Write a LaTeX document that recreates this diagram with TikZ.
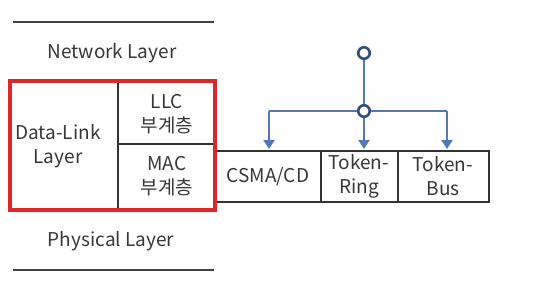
\documentclass[tikz,border=0pt]{standalone}
\usepackage{fontspec}
\setmainfont{Noto Sans CJK KR}
\usetikzlibrary{arrows.meta}
\definecolor{redbox}{RGB}{220,40,40}
\definecolor{bluearr}{RGB}{84,118,188}
\definecolor{txt}{RGB}{55,55,55}
\begin{document}
\begin{tikzpicture}[x=1pt,y=-1pt,
  lbl/.style={font=\fontsize{19}{24}\selectfont, text=txt, align=center, inner sep=0pt},
  rule/.style={line width=2pt, draw=black!75},
  cell/.style={line width=1.6pt, draw=black!80},
  bl/.style={line width=2.7pt, draw=bluearr},
  arr/.style={bl, -{Triangle[length=9pt,width=11pt]}},
  dot/.style={circle, draw=bluearr!65!black, line width=2.6pt, fill=white, minimum size=11.5pt, inner sep=0pt}]
\useasboundingbox (0,0) rectangle (549,289);
% horizontal rules
\draw[rule] (13,22) -- (214,22);
\draw[rule] (13,270) -- (214,270);
\node[lbl] (net) at (112,53) {Network Layer};
\node[lbl] (phy) at (111,241) {Physical Layer};
% inner dividers
\draw[cell] (118,81) -- (118,212);
\draw[cell] (118,144) -- (215,144);
% right table
\draw[cell] (215,151) rectangle (489,202);
\draw[cell] (321,151) -- (321,202);
\draw[cell] (398,151) -- (398,202);
% red box
\draw[draw=redbox, line width=3.4pt] (10,81) rectangle (215,210);
\node[lbl] (dl) at (58,146) {Data-Link\\Layer};
\node[lbl] (llc) at (167,114) {LLC\\부계층};
\node[lbl] (mac) at (167,176) {MAC\\부계층};
\node[lbl] (csma) at (268,177) {CSMA/CD};
\node[lbl] (ring) at (359,176) {Token-\\Ring};
\node[lbl] (bus) at (443,176) {Token-\\Bus};
% arrows
\coordinate (cl) at (269,111);
\coordinate (cr) at (447,111);
\coordinate (tl) at (269,149);
\coordinate (tm) at (364,149);
\coordinate (tr) at (447,149);
\node[dot] (top) at (364,53) {};
\node[dot] (mid) at (364,111) {};
\draw[bl] (top) -- (mid);
\draw[bl] (mid) -- (cl);
\draw[bl] (mid) -- (cr);
\draw[arr] (cl) -- (tl);
\draw[arr] (mid) -- (tm);
\draw[arr] (cr) -- (tr);
\end{tikzpicture}
\end{document}
